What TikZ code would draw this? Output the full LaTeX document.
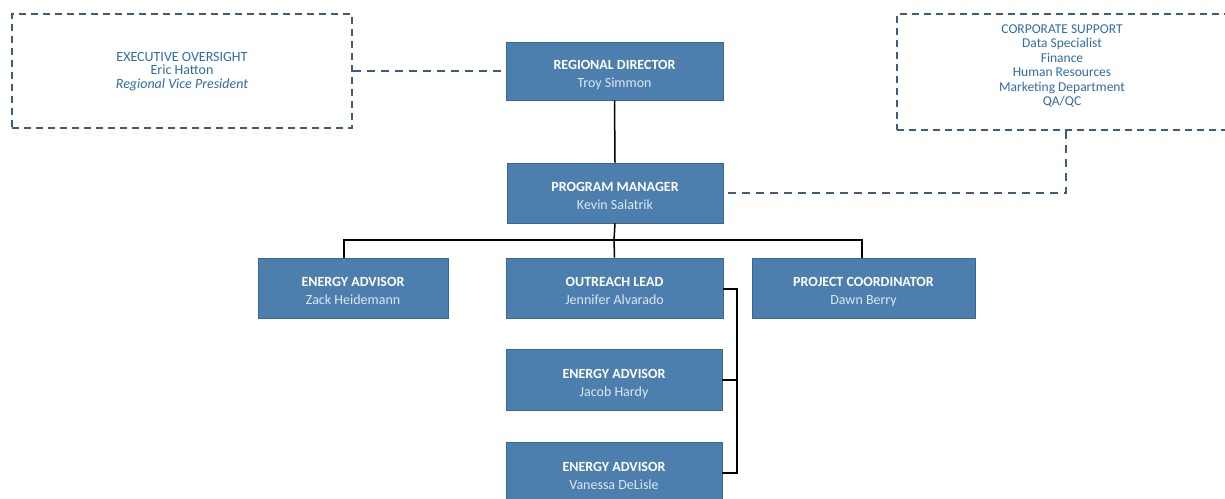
\documentclass[tikz,border=0pt]{standalone}
\usepackage{fontspec}
\setmainfont{Carlito}
\definecolor{boxfill}{HTML}{4C7FAD}
\definecolor{boxedge}{HTML}{3A6690}
\definecolor{namecol}{HTML}{DDE8F3}
\definecolor{dashcol}{HTML}{3E5C7C}
\definecolor{bluetext}{HTML}{2F6CAA}
\tikzset{
  x=1pt, y=-1pt,
  orgbox/.style={draw=boxedge, line width=0.8pt, fill=boxfill, inner sep=0pt},
  orgtext/.style={inner sep=0pt, align=center, text=white, font=\fontsize{14}{18}\selectfont},
  dashbox/.style={draw=dashcol, line width=1.1pt, dash pattern=on 7pt off 5pt, inner sep=0pt},
  dashtext/.style={inner sep=0pt, align=center, text=bluetext, font=\fontsize{14}{13.5}\selectfont},
  solidlink/.style={draw=black, line width=1.5pt},
  dashlink/.style={draw=dashcol, line width=1.2pt, dash pattern=on 8pt off 6pt},
}
\newcommand{\ttl}[1]{\strut\textbf{#1}}
\newcommand{\nm}[1]{{\color{namecol}#1\strut}}
\begin{document}
\begin{tikzpicture}
\useasboundingbox (0,0) rectangle (1225,498);
\clip (0,0) rectangle (1225,498);
\fill[white] (0,0) rectangle (1225,498);

% dashed boxes
\node[dashbox, minimum width=340pt, minimum height=114pt] (exec) at (182,71) {};
\node[dashtext] (exectext) at (182,71.5)
  {EXECUTIVE OVERSIGHT\\Eric Hatton\\\textit{Regional Vice President}};
\node[dashbox, minimum width=331pt, minimum height=116pt] (corp) at (1062.5,72) {};
\node[dashtext, font=\fontsize{13.5}{14.5}\selectfont] (corptext) at (1062,66)
  {CORPORATE SUPPORT\\Data Specialist\\Finance\\Human Resources\\Marketing Department\\QA/QC};

% solid boxes
\node[orgbox, minimum width=217pt, minimum height=58pt] (rd) at (614.5,71) {};
\node[orgtext] (rdt) at ([yshift=-3.4pt]rd.center) {\ttl{REGIONAL DIRECTOR}\\\nm{Troy Simmon}};
\node[orgbox, minimum width=216pt, minimum height=60pt] (pm) at (615,193) {};
\node[orgtext] (pmt) at ([yshift=-3.4pt]pm.center) {\ttl{PROGRAM MANAGER}\\\nm{Kevin Salatrik}};
\node[orgbox, minimum width=190pt, minimum height=60pt] (ea1) at (353,288) {};
\node[orgtext] (ea1t) at ([yshift=-3.4pt]ea1.center) {\ttl{ENERGY ADVISOR}\\\nm{Zack Heidemann}};
\node[orgbox, minimum width=217pt, minimum height=60pt] (ol) at (614.5,288) {};
\node[orgtext] (olt) at ([yshift=-3.4pt]ol.center) {\ttl{OUTREACH LEAD}\\\nm{Jennifer Alvarado}};
\node[orgbox, minimum width=223pt, minimum height=60pt] (pc) at (863.5,288) {};
\node[orgtext] (pct) at ([yshift=-3.4pt]pc.center) {\ttl{PROJECT COORDINATOR}\\\nm{Dawn Berry}};
\node[orgbox, minimum width=216pt, minimum height=61pt] (ea2) at (614,380) {};
\node[orgtext] (ea2t) at ([yshift=-3.4pt]ea2.center) {\ttl{ENERGY ADVISOR}\\\nm{Jacob Hardy}};
\node[orgbox, minimum width=216pt, minimum height=62pt] (ea3) at (614,473) {};
\node[orgtext] (ea3t) at ([yshift=-3.4pt]ea3.center) {\ttl{ENERGY ADVISOR}\\\nm{Vanessa DeLisle}};

% dashed links
\draw[dashlink] (exec.east) -- (rd.west);
\draw[dashlink] (corp.south -| 1066,0) -- (1066,193) -- (pm.east);

% solid links
\draw[solidlink] (rd.south) -- (pm.north);
\coordinate (bar) at (614,240);
\draw[solidlink] (pm.south) -- (bar);
\draw[solidlink] (ea1.north -| 344,0) |- (bar) -| (pc.north -| 862,0);
\draw[solidlink] (bar) -- (ol.north);
\coordinate (rail) at (737,289);
\draw[solidlink] (ol.east |- rail) -- (rail) -- (737,473) -- (ea3.east);
\draw[solidlink] (ea2.east) -- (ea2.east -| rail);
\end{tikzpicture}
\end{document}
